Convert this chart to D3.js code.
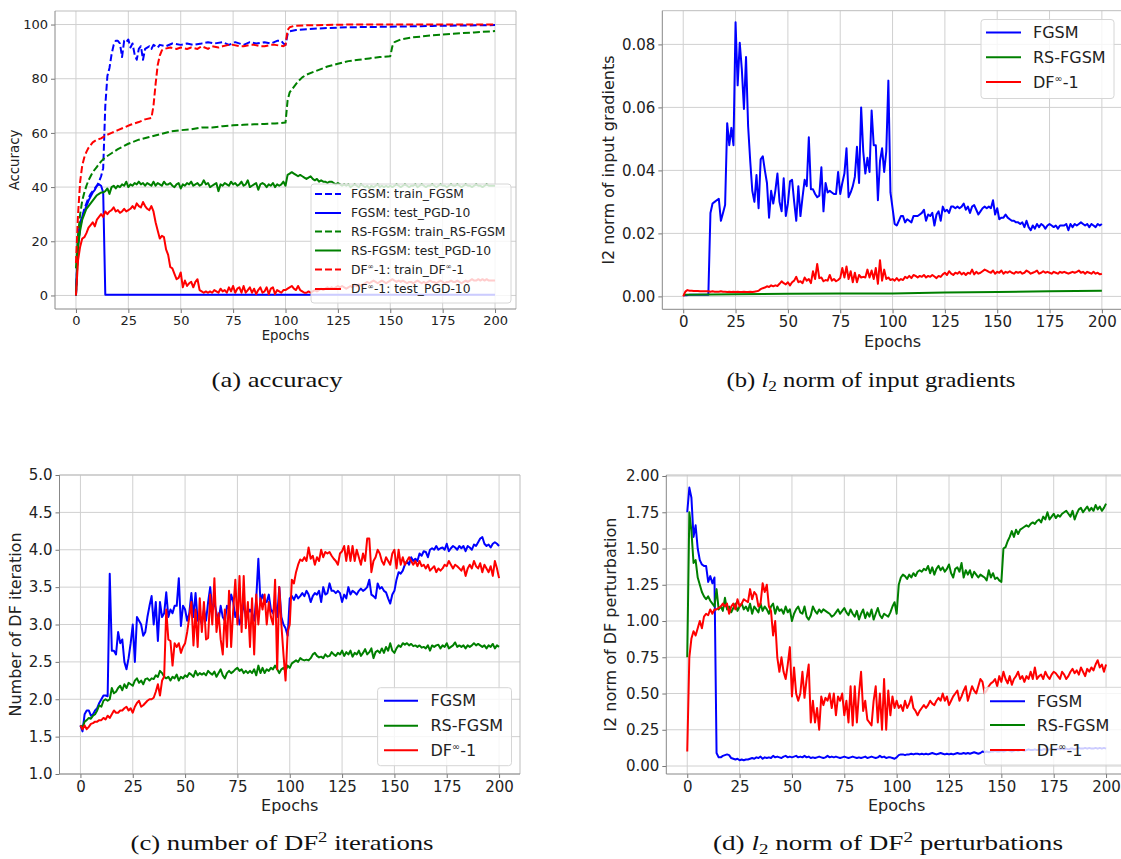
<!DOCTYPE html>
<html>
<head>
<meta charset="utf-8">
<script src="https://cdn.jsdelivr.net/npm/d3@7"></script>
<style>
  body { margin: 0; background: #fff; }
  svg text { font-family: "DejaVu Sans", sans-serif; }
</style>
</head>
<body>
<svg id="fig" width="1121" height="859"></svg>
<script>
// ---- shared x values / ticks ----
var epochs = d3.range(0, 201);
var xTicks = [0, 25, 50, 75, 100, 125, 150, 175, 200];

// ---- (a) accuracy ----
var fgsmTrainAccX = [0,1,2,3,4,5,6,7,8,9,10,11,12,13,14,15,16,17,18,19,20,21,22,23,24,25,26,27,28,29,30,31,32,33,34,35,36,37,38,39,40,
  43,46,50,53,56,60,63,66,70,73,76,80,83,86,90,93,96,98,99,100,101,102,105,110,120,130,150,170,200];
var fgsmTrainAcc = [0,18,25,29,32,34,36,37.5,38.5,39.5,40.5,42,44,47,70,81,84,89,92.5,94,94,93,88,94,93.5,94.5,91.5,93,89,87,91,92,87,91,91.5,92,91,92.5,92,91.5,92.5,
  92,93,92.5,93,92.5,93,93.5,93,93.5,92.5,93.5,92.5,93.5,93,93.5,93,94,94,93,92.5,96.5,97.5,98,98.3,98.7,99,99.2,99.5,99.8];
var fgsmTestAccX = [0,1,2,3,4,5,6,7,8,9,10,11,12,13,14,200];
var fgsmTestAcc = [0,22,27,29,31,33,35,36.5,38,39,40.5,41,40.5,38,0.3,0.3];
var rsTrainAccX = [0,1,2,3,4,5,6,7,8,10,12,14,17,20,25,30,35,40,45,50,55,60,65,70,75,80,85,90,95,100,101,102,104,106,108,110,115,120,125,130,135,140,145,150,151,152,155,160,165,170,180,190,200];
var rsTrainAcc = [10,22,30,35,38,40.5,42.5,44,45.5,47.5,49.5,51,52.5,54,56,57.5,58.5,59.5,60.5,61,61.3,62,62,62.5,62.8,63,63.2,63.3,63.5,63.8,72,75,77,79,80.5,81.5,83,84.5,85.5,86.5,87,87.5,88,88.3,92,93.5,94.5,95.2,95.6,96,96.6,97.1,97.6];
var rsTestAcc = [0,
  18, 24, 28, 30, 32, 33, 34, 35, 36, 37,
  37.5, 38, 38, 38.5, 39.5, 37.5, 40, 40.5, 39.5, 40.5,
  40, 41, 40.5, 42, 40, 41, 40.5, 41.5, 41, 42,
  41, 41.5, 40.5, 41.5, 41, 40.5, 42, 40.5, 41.5, 41,
  40.5, 42, 41, 41, 41.5, 40.5, 40, 41, 41.5, 39.5,
  41, 40.5, 41.5, 41, 42, 40.5, 41, 41.5, 40.5, 41,
  42.5, 41, 41.5, 40, 40.5, 41, 41.5, 38.5, 41, 40.5,
  41.5, 41, 40.5, 42, 41, 41.5, 40.5, 41, 42, 40.5,
  41, 42.5, 40, 40.5, 41, 41.5, 39, 41, 41.5, 41,
  40, 41, 40.5, 41.5, 40, 41, 40.5, 41, 42, 40.5,
  44.5, 45, 45.5, 45, 44.5, 44, 44.5, 44, 43.5, 43,
  43.5, 44, 43, 42.5, 43, 42, 42.5, 42, 42, 41.5,
  42, 42, 41.5, 41, 41.5, 41, 40.5, 41, 40.5, 41,
  40, 40.5, 41, 40.5, 40, 41, 40.5, 40, 40.5, 39.5,
  40.5, 40, 40.5, 41, 40, 40.5, 40, 40.5, 40, 40.5,
  40, 40.5, 41, 40.5, 40, 40.5, 41, 40.5, 40, 40.5,
  40.5, 41, 40, 40.5, 41, 40.5, 40, 40.5, 40.5, 41,
  40.5, 40, 40.5, 41, 40.5, 40.5, 40, 40.5, 41, 40.5,
  40.5, 41, 40.5, 40, 40.5, 41, 40.5, 40.5, 40, 40.5,
  41, 40.5, 40.5, 40, 40.5, 41, 40.5, 40.5, 40.5, 40.5];
var dfTrainAccX = [0,1,2,3,4,5,6,7,8,10,12,14,17,20,23,26,30,33,36,37,38,39,40,41,42,45,48,50,53,55,58,60,63,65,68,70,73,75,78,80,83,85,88,90,93,95,99,100,101,102,104,110,130,200];
var dfTrainAcc = [12,30,42,48,51,53,54.5,55.5,56.5,57.5,58,59,60,61,62,63,64,65,65.5,70,78,85,88.5,90.5,91,91.5,91,91.5,91,91.5,91,92,91,92,91.5,92,92.5,92.5,92,92,92.5,92.5,92,92,92.5,92.5,92,92.5,98,99,99.5,99.7,100,100];
var dfTestAcc = [0,
  13, 18, 21, 21.5, 23, 25, 26, 27, 25.5, 28,
  29, 30, 29, 31, 30, 31, 31.5, 32.5, 31, 31.5,
  30.5, 31, 32, 31, 31.5, 32, 33, 32, 34, 33,
  32.5, 34.5, 33, 32, 31.5, 33, 31, 27, 24, 21,
  22, 21.5, 17, 15, 10.5, 10, 8, 6, 6.5, 8.5,
  3, 5.5, 3.5, 4.5, 5, 3, 5, 6, 2, 1.5,
  1, 1.5, 1, 1.5, 1, 2, 1.5, 1, 2.5, 1.5,
  2, 1, 3, 1.5, 3.5, 1, 2.5, 3, 1, 3.5,
  1, 2, 3, 1, 2.5, 0.5, 2, 3, 1, 1.5,
  3, 0.5, 2.5, 3, 0.5, 2, 1.5, 1, 2, 2,
  2.5, 3, 3.5, 2.5, 2, 3.5, 2, 1.5, 1, 1,
  1.5, 1, 1.5, 2, 1.5, 2, 2.5, 2, 2.5, 3,
  2.5, 3, 2.5, 3, 3.5, 3, 3.5, 3, 2.5, 3,
  3.5, 3, 4, 3.5, 4, 3.5, 4, 4.5, 5, 4.5,
  5, 5.5, 5, 4.5, 5, 5.5, 5, 4.5, 5, 5.5,
  6, 5.5, 5, 5.5, 5, 5.5, 5, 4.5, 5, 5,
  4.5, 5, 5.5, 5, 4.5, 5, 4.5, 5, 5.5, 5,
  5, 4.5, 5, 5.5, 5, 4.5, 5, 5, 5.5, 5,
  5, 5.5, 5, 4.5, 5, 5.5, 5, 5.5, 6, 5.5,
  5.5, 6, 5.5, 6, 5.5, 6, 5.5, 5.5, 5.5, 5.5];

// ---- (b) l2 norm of input gradients ----
var fgsmGrad = [0.0003,
  0.0004, 0.0004, 0.0005, 0.0005, 0.0005, 0.0005, 0.0005, 0.0005, 0.0005, 0.0005,
  0.0005, 0.0005, 0.0265, 0.0295, 0.030, 0.0305, 0.031, 0.024, 0.0265, 0.029,
  0.055, 0.048, 0.0535, 0.048, 0.087, 0.067, 0.0805, 0.072, 0.0595, 0.076,
  0.054, 0.043, 0.0335, 0.030, 0.0385, 0.028, 0.0435, 0.0445, 0.040, 0.036,
  0.025, 0.0335, 0.0295, 0.0335, 0.039, 0.030, 0.027, 0.0375, 0.0255, 0.0295,
  0.0365, 0.037, 0.030, 0.024, 0.035, 0.0255, 0.0315, 0.037, 0.035, 0.0505,
  0.034, 0.034, 0.0325, 0.0315, 0.032, 0.041, 0.027, 0.036, 0.033, 0.0335,
  0.033, 0.0325, 0.0325, 0.0395, 0.0325, 0.036, 0.039, 0.047, 0.0315, 0.033,
  0.035, 0.038, 0.0475, 0.036, 0.060, 0.046, 0.039, 0.044, 0.0395, 0.059,
  0.048, 0.048, 0.0305, 0.043, 0.047, 0.0395, 0.046, 0.0685, 0.033, 0.028,
  0.023, 0.0225, 0.024, 0.0255, 0.0255, 0.0235, 0.0245, 0.024, 0.0235, 0.0255,
  0.0255, 0.0255, 0.026, 0.0265, 0.0275, 0.024, 0.026, 0.0255, 0.0265, 0.0225,
  0.026, 0.027, 0.024, 0.0285, 0.027, 0.0275, 0.0265, 0.0285, 0.0285, 0.028,
  0.0285, 0.028, 0.0285, 0.0295, 0.0275, 0.0285, 0.0265, 0.0285, 0.029, 0.0275,
  0.026, 0.027, 0.028, 0.0285, 0.028, 0.0285, 0.028, 0.0305, 0.026, 0.028,
  0.0245, 0.025, 0.025, 0.026, 0.025, 0.0245, 0.024, 0.024, 0.0235, 0.0235,
  0.023, 0.0235, 0.022, 0.024, 0.022, 0.021, 0.0225, 0.0215, 0.023, 0.022,
  0.023, 0.0225, 0.0215, 0.0225, 0.023, 0.0225, 0.022, 0.0225, 0.0215, 0.0225,
  0.0225, 0.0225, 0.023, 0.021, 0.023, 0.022, 0.023, 0.0225, 0.023, 0.0235,
  0.023, 0.0225, 0.023, 0.022, 0.023, 0.0225, 0.022, 0.023, 0.0225, 0.023];
var rsGradX = [0, 25, 50, 75, 100, 125, 150, 175, 200];
var rsGrad = [0.0005, 0.0007, 0.0008, 0.0009, 0.0009, 0.0012, 0.0014, 0.0016, 0.0018];
var dfGrad = [0,
  0.0015, 0.002, 0.0018, 0.0018, 0.0017, 0.0017, 0.0017, 0.0016, 0.0016, 0.0016,
  0.0016, 0.0016, 0.0015, 0.0016, 0.0015, 0.0015, 0.0015, 0.0016, 0.0015, 0.0015,
  0.0014, 0.0015, 0.0014, 0.0015, 0.0014, 0.0015, 0.0014, 0.0014, 0.0015, 0.0014,
  0.0014, 0.0015, 0.0014, 0.0015, 0.0016, 0.0018, 0.0023, 0.0026, 0.0028, 0.0032,
  0.003, 0.0035, 0.0032, 0.0035, 0.0033, 0.004, 0.0048, 0.0042, 0.0038, 0.0045,
  0.0035, 0.0045, 0.005, 0.0062, 0.0045, 0.0048, 0.0042, 0.006, 0.005, 0.0055,
  0.0042, 0.008, 0.0055, 0.0103, 0.0058, 0.006, 0.0048, 0.0052, 0.005, 0.0068,
  0.005, 0.0055, 0.0048, 0.0052, 0.0058, 0.009, 0.006, 0.0095, 0.0055, 0.008,
  0.0045, 0.0075, 0.0045, 0.0068, 0.006, 0.0062, 0.006, 0.0085, 0.006, 0.0082,
  0.0055, 0.009, 0.004, 0.0115, 0.005, 0.0085, 0.0055, 0.006, 0.0052, 0.0055,
  0.005, 0.0058, 0.005, 0.0055, 0.0052, 0.0062, 0.0058, 0.0065, 0.0058, 0.0068,
  0.0065, 0.006, 0.0065, 0.0062, 0.0068, 0.006, 0.0065, 0.0062, 0.0068, 0.0063,
  0.0058, 0.0065, 0.0062, 0.007, 0.0075, 0.0068, 0.008, 0.0072, 0.0068, 0.0075,
  0.0072, 0.0078, 0.007, 0.0075, 0.0068, 0.0075, 0.0072, 0.0085, 0.007, 0.0078,
  0.0072, 0.0075, 0.008, 0.0085, 0.0082, 0.0078, 0.0075, 0.0082, 0.0072, 0.0078,
  0.0075, 0.0082, 0.0072, 0.0078, 0.0075, 0.008, 0.0075, 0.0072, 0.0078, 0.0075,
  0.0078, 0.0072, 0.0075, 0.0082, 0.0078, 0.0072, 0.0075, 0.0078, 0.0082, 0.0072,
  0.0075, 0.008, 0.0075, 0.0078, 0.0075, 0.0072, 0.0078, 0.0075, 0.0072, 0.0078,
  0.0075, 0.0078, 0.0075, 0.0072, 0.0075, 0.0078, 0.0075, 0.0078, 0.0082, 0.0075,
  0.0078, 0.0072, 0.0078, 0.0075, 0.0072, 0.0078, 0.0072, 0.0075, 0.007, 0.0072];

// ---- (c) number of DF iterations ----
var fgsmIter = [1.65,
  1.57, 1.8, 1.85, 1.85, 1.78, 1.8, 1.85, 1.88, 1.95, 2.0,
  2.05, 2.05, 2.04, 3.68, 2.65, 2.65, 2.6, 2.9, 2.75, 2.8,
  2.5, 2.4, 2.55, 2.75, 3.0, 2.5, 3.1, 3.05, 3.0, 2.85,
  2.9, 3.1, 3.25, 3.38, 3.0, 3.3, 2.78, 3.3, 3.1, 3.15,
  3.43, 3.1, 3.2, 3.15, 3.25, 3.25, 3.62, 2.98, 3.25, 3.2,
  3.05, 3.15, 3.42, 3.1, 3.42, 3.05, 3.1, 3.0, 3.2, 3.05,
  3.3, 3.5, 3.2, 3.3, 3.15, 3.05, 3.25, 3.1, 3.05, 3.25,
  3.2, 3.4, 3.3, 3.1, 3.2, 3.0, 3.1, 3.3, 3.1, 3.15,
  3.2, 3.15, 3.05, 3.35, 3.88, 3.3, 3.4, 3.3, 3.3, 3.4,
  3.2, 3.15, 3.3, 3.1, 3.5, 3.1, 3.0, 2.95, 2.85, 3.35,
  3.38, 3.33, 3.4, 3.35, 3.38, 3.42, 3.38, 3.45, 3.4, 3.3,
  3.38, 3.42, 3.4, 3.45, 3.3, 3.5, 3.4, 3.42, 3.55, 3.45,
  3.45, 3.42, 3.45, 3.42, 3.3, 3.4, 3.35, 3.5, 3.4, 3.45,
  3.43, 3.4, 3.45, 3.48, 3.45, 3.47, 3.5, 3.6, 3.4, 3.38,
  3.35, 3.55, 3.48, 3.5, 3.45, 3.43, 3.35, 3.28, 3.4, 3.45,
  3.6, 3.7, 3.68, 3.72, 3.8, 3.85, 3.8, 3.9, 3.85, 3.88,
  3.85, 3.95, 3.92, 3.98, 3.97, 3.9, 4.0, 4.02, 4.0, 4.05,
  4.0, 4.02, 4.03, 4.0, 4.08, 3.98, 4.02, 4.05, 4.03, 4.0,
  4.05, 4.02, 4.05, 3.98, 4.05, 4.03, 4.0, 4.07, 4.05, 4.1,
  4.15, 4.17, 4.08, 4.05, 4.07, 4.03, 4.08, 4.1, 4.08, 4.05];
var rsIter = [1.65,
  1.62, 1.7, 1.72, 1.75, 1.74, 1.78, 1.8, 1.85, 1.92, 1.9,
  1.98, 2.0, 1.98, 2.0, 2.15, 2.08, 2.1, 2.15, 2.18, 2.12,
  2.2, 2.15, 2.22, 2.2, 2.18, 2.25, 2.28, 2.22, 2.25, 2.2,
  2.27, 2.28, 2.25, 2.28, 2.27, 2.32, 2.3, 2.38, 2.35, 2.3,
  2.28, 2.3, 2.25, 2.3, 2.28, 2.33, 2.25, 2.3, 2.28, 2.32,
  2.3, 2.35, 2.33, 2.3, 2.38, 2.32, 2.35, 2.33, 2.35, 2.32,
  2.38, 2.35, 2.33, 2.37, 2.3, 2.35, 2.4, 2.32, 2.28, 2.35,
  2.38, 2.35, 2.37, 2.4, 2.42, 2.38, 2.4, 2.35, 2.38, 2.35,
  2.38, 2.35, 2.4, 2.32, 2.45, 2.35, 2.42, 2.35, 2.4, 2.38,
  2.42, 2.4, 2.45, 2.4, 2.35, 2.4, 2.42, 2.38, 2.45, 2.42,
  2.48, 2.5, 2.52, 2.5, 2.55, 2.53, 2.52, 2.53, 2.52, 2.55,
  2.6, 2.62, 2.58, 2.56, 2.57, 2.55, 2.6, 2.57, 2.58, 2.63,
  2.6, 2.58, 2.62, 2.6, 2.65, 2.58, 2.63, 2.6, 2.65, 2.57,
  2.62, 2.6, 2.65, 2.58, 2.62, 2.67, 2.6, 2.63, 2.68, 2.55,
  2.63, 2.65, 2.62, 2.68, 2.62, 2.7, 2.65, 2.75, 2.65, 2.62,
  2.68, 2.72, 2.7, 2.75, 2.73, 2.75, 2.72, 2.74, 2.71, 2.72,
  2.7, 2.72, 2.69, 2.7, 2.68, 2.72, 2.65, 2.72, 2.7, 2.72,
  2.73, 2.68, 2.72, 2.7, 2.75, 2.68, 2.7, 2.72, 2.76, 2.7,
  2.72, 2.7, 2.72, 2.68, 2.72, 2.7, 2.72, 2.75, 2.72, 2.74,
  2.72, 2.7, 2.72, 2.68, 2.72, 2.7, 2.74, 2.68, 2.72, 2.7];
var dfIter = [1.65,
  1.6, 1.65, 1.6, 1.63, 1.67, 1.68, 1.7, 1.7, 1.72, 1.72,
  1.75, 1.73, 1.78, 1.75, 1.8, 1.85, 1.82, 1.82, 1.85, 1.85,
  1.88, 1.9, 1.85, 1.88, 1.82, 1.9, 1.95, 1.98, 1.9, 1.92,
  1.95, 1.98, 2.0, 2.0, 2.02, 2.1, 2.2, 2.05, 2.25, 2.3,
  3.2, 2.8, 2.78, 2.45, 2.75, 2.7, 2.75, 2.62, 2.7, 2.75,
  2.9, 3.1, 3.3, 2.72, 3.2, 2.7, 3.35, 2.9, 3.3, 2.8,
  2.82, 3.4, 3.0, 3.62, 2.9, 3.15, 2.8, 2.6, 3.2, 2.7,
  3.45, 2.7, 3.2, 3.6, 3.0, 3.65, 2.9, 3.65, 2.95, 3.3,
  2.7, 3.35, 2.6, 3.4, 3.0, 3.35, 3.2, 3.4, 3.0, 3.3,
  3.1, 3.0, 3.6, 2.4, 3.5, 3.0, 2.6, 2.25, 2.9, 3.0,
  3.6, 3.55, 3.7, 3.8, 3.87, 3.85, 3.9, 3.85, 4.03, 3.88,
  3.92, 3.8, 3.9, 3.85, 4.0, 3.9, 3.97, 3.95, 3.97, 3.92,
  3.88, 3.85, 3.8, 3.95, 3.98, 4.05, 3.85, 4.05, 3.85, 4.05,
  3.85, 4.0, 3.9, 3.8, 3.95, 3.85, 4.15, 4.15, 3.7, 3.85,
  3.9, 4.0, 3.95, 3.85, 3.8, 3.9, 3.85, 3.8, 3.95, 4.0,
  3.75, 4.0, 3.8, 3.9, 3.8, 3.85, 3.9, 3.85, 3.8, 3.85,
  3.78, 3.85, 3.78, 3.8, 3.75, 3.8, 3.72, 3.75, 3.78, 3.7,
  3.75, 3.72, 3.75, 3.8, 3.78, 3.85, 3.8, 3.75, 3.8, 3.78,
  3.75, 3.72, 3.78, 3.65, 3.75, 3.8, 3.75, 3.85, 3.78, 3.75,
  3.82, 3.7, 3.8, 3.75, 3.7, 3.78, 3.65, 3.85, 3.75, 3.62];

// ---- (d) l2 norm of DF perturbations ----
var fgsmPert = [1.75,
  1.92, 1.85, 1.58, 1.66, 1.5, 1.42, 1.39, 1.38, 1.38, 1.27,
  1.31, 1.26, 1.3, 0.09, 0.06, 0.06, 0.07, 0.075, 0.08, 0.075,
  0.055, 0.05, 0.045, 0.05, 0.04, 0.045, 0.04, 0.045, 0.045, 0.05,
  0.055, 0.05, 0.06, 0.055, 0.065, 0.05, 0.06, 0.055, 0.06, 0.055,
  0.07, 0.06, 0.065, 0.06, 0.055, 0.065, 0.07, 0.06, 0.065, 0.06,
  0.065, 0.07, 0.06, 0.065, 0.06, 0.07, 0.06, 0.065, 0.055, 0.06,
  0.055, 0.06, 0.065, 0.06, 0.055, 0.06, 0.07, 0.06, 0.065, 0.06,
  0.065, 0.06, 0.055, 0.06, 0.065, 0.06, 0.055, 0.06, 0.065, 0.06,
  0.055, 0.06, 0.055, 0.06, 0.065, 0.055, 0.06, 0.065, 0.06, 0.055,
  0.06, 0.07, 0.06, 0.065, 0.055, 0.06, 0.06, 0.055, 0.05, 0.06,
  0.075, 0.08, 0.08, 0.075, 0.08, 0.08, 0.085, 0.08, 0.085, 0.085,
  0.08, 0.085, 0.08, 0.085, 0.08, 0.085, 0.09, 0.085, 0.08, 0.085,
  0.09, 0.085, 0.08, 0.085, 0.08, 0.085, 0.08, 0.085, 0.09, 0.085,
  0.085, 0.09, 0.085, 0.09, 0.085, 0.09, 0.095, 0.09, 0.085, 0.09,
  0.1, 0.095, 0.1, 0.095, 0.1, 0.1, 0.105, 0.1, 0.1, 0.105,
  0.1, 0.105, 0.11, 0.105, 0.1, 0.105, 0.11, 0.105, 0.11, 0.11,
  0.105, 0.11, 0.115, 0.11, 0.11, 0.115, 0.11, 0.115, 0.11, 0.115,
  0.115, 0.11, 0.115, 0.12, 0.115, 0.115, 0.12, 0.115, 0.12, 0.115,
  0.12, 0.115, 0.12, 0.12, 0.115, 0.12, 0.125, 0.12, 0.12, 0.125,
  0.12, 0.125, 0.12, 0.12, 0.125, 0.12, 0.125, 0.12, 0.125, 0.12];
var rsPert = [0.75,
  1.75, 1.62, 1.4, 1.42, 1.3, 1.25, 1.2, 1.17, 1.15, 1.17,
  1.14, 1.12, 1.1, 1.22, 1.08, 1.1, 1.07, 1.16, 1.08, 1.1,
  1.06, 1.09, 1.12, 1.07, 1.1, 1.12, 1.08, 1.1, 1.07, 1.12,
  1.05, 1.1, 1.08, 1.06, 1.12, 1.07, 1.1, 1.08, 1.05, 1.1,
  1.12, 1.05, 1.1, 1.07, 1.08, 1.05, 1.1, 1.06, 1.08, 1.0,
  1.05, 1.08, 1.1, 1.06, 1.05, 1.1, 1.03, 1.01, 1.04, 1.1,
  1.07, 1.05, 1.08, 1.06, 1.08, 1.07, 1.06, 1.05, 1.03, 1.04,
  1.06, 1.08, 1.05, 1.07, 1.09, 1.06, 1.04, 1.08, 1.05, 1.03,
  1.07, 1.01, 1.05, 1.08, 1.02, 1.06, 1.03, 1.08, 1.01, 1.05,
  1.09, 1.04, 1.02, 1.05, 1.04, 1.03, 1.06, 1.1, 1.13, 1.05,
  1.25, 1.3, 1.32, 1.31, 1.29, 1.32, 1.3, 1.33, 1.31, 1.34,
  1.35, 1.34, 1.36, 1.35, 1.38, 1.33, 1.37, 1.32, 1.36, 1.38,
  1.35, 1.37, 1.34, 1.36, 1.39, 1.33, 1.3, 1.36, 1.37, 1.34,
  1.4, 1.3, 1.35, 1.32, 1.35, 1.3, 1.34, 1.32, 1.3, 1.32,
  1.31, 1.3, 1.28, 1.35, 1.3, 1.33, 1.29, 1.3, 1.28, 1.27,
  1.5, 1.51, 1.55, 1.58, 1.62, 1.58, 1.63, 1.6, 1.63, 1.64,
  1.65, 1.66, 1.65, 1.67, 1.68, 1.67, 1.69, 1.7, 1.68, 1.72,
  1.7, 1.75, 1.7, 1.72, 1.74, 1.71, 1.73, 1.72, 1.74, 1.75,
  1.76, 1.74, 1.72, 1.76, 1.7, 1.74, 1.77, 1.78, 1.75, 1.77,
  1.79, 1.76, 1.78, 1.76, 1.8, 1.77, 1.79, 1.76, 1.78, 1.81];
var dfPert = [0.1,
  0.75, 0.88, 0.93, 0.9, 0.95, 1.0, 0.95, 1.03, 1.05, 1.04,
  1.08, 1.05, 1.08, 1.08, 1.09, 1.1, 1.12, 1.1, 1.12, 1.05,
  1.1, 1.12, 1.08, 1.15, 1.1, 1.12, 1.15, 1.14, 1.13, 1.22,
  1.15, 1.2, 1.18, 1.1, 1.12, 1.26, 1.2, 1.25, 1.1, 1.07,
  0.9, 1.0, 0.75, 0.65, 0.75, 0.65, 0.6, 0.7, 0.82, 0.48,
  0.68, 0.5, 0.45, 0.5, 0.65, 0.47, 0.6, 0.7, 0.3, 0.45,
  0.3, 0.4, 0.25, 0.48, 0.42, 0.47, 0.45, 0.5, 0.4, 0.5,
  0.35, 0.48, 0.45, 0.5, 0.35, 0.45, 0.3, 0.55, 0.28, 0.55,
  0.3, 0.5, 0.65, 0.38, 0.45, 0.32, 0.3, 0.28, 0.45, 0.55,
  0.3, 0.5, 0.25, 0.6, 0.25, 0.52, 0.35, 0.48, 0.4, 0.45,
  0.4, 0.42, 0.38, 0.45, 0.4, 0.43, 0.48, 0.4, 0.38, 0.35,
  0.38, 0.4, 0.42, 0.4, 0.42, 0.45, 0.43, 0.42, 0.45, 0.47,
  0.45, 0.5, 0.45, 0.48, 0.42, 0.45, 0.48, 0.5, 0.52, 0.45,
  0.48, 0.52, 0.55, 0.45, 0.5, 0.55, 0.52, 0.5, 0.55, 0.6,
  0.58, 0.5, 0.52, 0.55, 0.57, 0.58, 0.6, 0.55, 0.62, 0.58,
  0.65, 0.6, 0.57, 0.62, 0.56, 0.6, 0.62, 0.65, 0.6, 0.62,
  0.58, 0.62, 0.6, 0.65, 0.6, 0.68, 0.6, 0.62, 0.63, 0.6,
  0.65, 0.62, 0.6, 0.63, 0.65, 0.64, 0.62, 0.6, 0.65, 0.63,
  0.6, 0.62, 0.65, 0.67, 0.64, 0.66, 0.63, 0.68, 0.65, 0.62,
  0.67, 0.65, 0.68, 0.66, 0.7, 0.73, 0.68, 0.7, 0.65, 0.7];

// ---- labels ----
var accLegend = ["FGSM: train_FGSM", "FGSM: test_PGD-10", "RS-FGSM: train_RS-FGSM",
  "RS-FGSM: test_PGD-10", "DF\u221e-1: train_DF\u221e-1", "DF\u221e-1: test_PGD-10"];
var methodLegend = ["FGSM", "RS-FGSM", "DF\u221e-1"];
var colors = ["#0000ff", "#008000", "#ff0000"];

var fig = d3.select("#fig");
fig.append("rect").attr("width", 1121).attr("height", 859).attr("fill", "#fff");

// text with a small superscript infinity sign
function richText(sel, str, fs) {
  var parts = str.split("\u221e");
  var up = fs * 0.38;
  parts.forEach(function(part, i) {
    if (i > 0) {
      sel.append("tspan").attr("font-size", fs * 0.62).attr("dy", -up).text("\u221e");
      sel.append("tspan").attr("dy", up).text(part);
    } else {
      sel.append("tspan").text(part);
    }
  });
}

function drawPanel(p) {
  var x = d3.scaleLinear().domain([-10, 210]).range([p.left, p.right]);
  var y = d3.scaleLinear().domain(p.yDomain).range([p.bottom, p.top]);
  var g = fig.append("g");

  // grid
  g.append("g").selectAll("line").data(xTicks).enter().append("line")
    .attr("x1", function(d) { return x(d); }).attr("x2", function(d) { return x(d); })
    .attr("y1", p.top).attr("y2", p.bottom)
    .attr("stroke", "#d0d0d0").attr("stroke-width", 1);
  g.append("g").selectAll("line").data(p.yTicks).enter().append("line")
    .attr("y1", function(d) { return y(d); }).attr("y2", function(d) { return y(d); })
    .attr("x1", p.left).attr("x2", p.right)
    .attr("stroke", "#d0d0d0").attr("stroke-width", 1);

  // axes
  var xa = g.append("g").attr("transform", "translate(0," + p.bottom + ")")
    .call(d3.axisBottom(x).tickValues(xTicks).tickSize(4).tickPadding(3).tickSizeOuter(0));
  var ya = g.append("g").attr("transform", "translate(" + p.left + ",0)")
    .call(d3.axisLeft(y).tickValues(p.yTicks).tickFormat(d3.format(p.fmt)).tickSize(4).tickPadding(3).tickSizeOuter(0));
  [xa, ya].forEach(function(a) {
    a.select(".domain").remove();
    a.attr("font-size", p.tickFs).attr("font-family", "DejaVu Sans");
    a.selectAll("line").attr("stroke", "#777");
    a.selectAll("text").attr("fill", "#222");
  });

  // frame
  g.append("line").attr("x1", p.left).attr("x2", p.right).attr("y1", p.top).attr("y2", p.top).attr("stroke", "#bdbdbd");
  g.append("line").attr("x1", p.right).attr("x2", p.right).attr("y1", p.top).attr("y2", p.bottom).attr("stroke", "#bdbdbd");
  g.append("line").attr("x1", p.left).attr("x2", p.right).attr("y1", p.bottom).attr("y2", p.bottom).attr("stroke", "#888");
  g.append("line").attr("x1", p.left).attr("x2", p.left).attr("y1", p.top).attr("y2", p.bottom).attr("stroke", "#888");

  // series
  var cid = "clip-" + p.id;
  fig.append("clipPath").attr("id", cid).append("rect")
    .attr("x", p.left).attr("y", p.top).attr("width", p.right - p.left).attr("height", p.bottom - p.top);
  var lines = g.append("g").attr("clip-path", "url(#" + cid + ")");
  p.series.forEach(function(s) {
    var xs = s.x || epochs;
    var line = d3.line().x(function(d, i) { return x(xs[i]); }).y(function(d) { return y(d); });
    lines.append("path").datum(s.y).attr("d", line)
      .attr("fill", "none").attr("stroke", s.color).attr("stroke-width", p.lw)
      .attr("stroke-linejoin", "round")
      .attr("stroke-dasharray", s.dash ? "7,3" : null);
  });

  // axis labels
  g.append("text").attr("x", (p.left + p.right) / 2).attr("y", p.xLabelY)
    .attr("text-anchor", "middle").attr("font-size", p.labelFs).attr("fill", "#222").text("Epochs");
  g.append("text").attr("transform", "translate(" + p.yLabelX + "," + ((p.top + p.bottom) / 2) + ") rotate(-90)")
    .attr("text-anchor", "middle").attr("font-size", p.labelFs).attr("fill", "#222").text(p.yLabel);

  // legend
  var L = p.legend;
  var lg = g.append("g");
  lg.append("rect").attr("x", L.box[0]).attr("y", L.box[1])
    .attr("width", L.box[2] - L.box[0]).attr("height", L.box[3] - L.box[1])
    .attr("rx", 3).attr("fill", "#fff").attr("fill-opacity", 0.8)
    .attr("stroke", "#d6d6d6").attr("stroke-width", 1);
  L.items.forEach(function(it, i) {
    var yy = L.rows[i];
    lg.append("line").attr("x1", L.hx[0]).attr("x2", L.hx[1]).attr("y1", yy).attr("y2", yy)
      .attr("stroke", it.color).attr("stroke-width", p.lw)
      .attr("stroke-dasharray", it.dash ? "7,3" : null);
    var t = lg.append("text").attr("x", L.tx).attr("y", yy + L.fs * 0.36)
      .attr("font-size", L.fs).attr("fill", "#222");
    richText(t, it.label, L.fs);
  });
}

// panel (a)
drawPanel({
  id: "a", left: 55, right: 516, top: 11, bottom: 309,
  yDomain: [-5, 105], yTicks: [0, 20, 40, 60, 80, 100], fmt: "d",
  tickFs: 13, labelFs: 13.3, lw: 2, xLabelY: 340, yLabelX: 19, yLabel: "Accuracy",
  series: [
    { x: fgsmTrainAccX, y: fgsmTrainAcc, color: colors[0], dash: true },
    { x: fgsmTestAccX, y: fgsmTestAcc, color: colors[0] },
    { x: rsTrainAccX, y: rsTrainAcc, color: colors[1], dash: true },
    { y: rsTestAcc, color: colors[1] },
    { x: dfTrainAccX, y: dfTrainAcc, color: colors[2], dash: true },
    { y: dfTestAcc, color: colors[2] }
  ],
  legend: {
    box: [311, 184, 511, 303], hx: [315, 341], tx: 351, fs: 12.3,
    rows: [194, 213, 231.5, 250.5, 269.5, 289],
    items: accLegend.map(function(l, i) { return { label: l, color: colors[Math.floor(i / 2)], dash: i % 2 === 0 }; })
  }
});

// panel (b)
drawPanel({
  id: "b", left: 662.3, right: 1122.8, top: 10.7, bottom: 309.3,
  yDomain: [-0.0041, 0.0907], yTicks: [0, 0.02, 0.04, 0.06, 0.08], fmt: ".2f",
  tickFs: 15, labelFs: 16, lw: 2, xLabelY: 347, yLabelX: 614, yLabel: "l2 norm of input gradients",
  series: [
    { y: fgsmGrad, color: colors[0] },
    { x: rsGradX, y: rsGrad, color: colors[1] },
    { y: dfGrad, color: colors[2] }
  ],
  legend: {
    box: [981, 19.5, 1114, 98.5], hx: [986, 1021], tx: 1033, fs: 16,
    rows: [32.5, 57.3, 82],
    items: methodLegend.map(function(l, i) { return { label: l, color: colors[i] }; })
  }
});

// panel (c)
drawPanel({
  id: "c", left: 59.5, right: 520, top: 475, bottom: 774,
  yDomain: [1, 5], yTicks: [1, 1.5, 2, 2.5, 3, 3.5, 4, 4.5, 5], fmt: ".1f",
  tickFs: 15, labelFs: 16, lw: 2, xLabelY: 811, yLabelX: 21, yLabel: "Number of DF iteration",
  series: [
    { y: fgsmIter, color: colors[0] },
    { y: rsIter, color: colors[1] },
    { y: dfIter, color: colors[2] }
  ],
  legend: {
    box: [377.6, 687.7, 511.5, 765.7], hx: [384, 418], tx: 430.5, fs: 16,
    rows: [700.7, 725.7, 750.3],
    items: methodLegend.map(function(l, i) { return { label: l, color: colors[i] }; })
  }
});

// panel (d)
drawPanel({
  id: "d", left: 666.3, right: 1127, top: 475, bottom: 774,
  yDomain: [-0.055, 2.007], yTicks: [0, 0.25, 0.5, 0.75, 1, 1.25, 1.5, 1.75, 2], fmt: ".2f",
  tickFs: 15, labelFs: 16, lw: 2, xLabelY: 811, yLabelX: 616, yLabel: "l2 norm of DF perturbation",
  series: [
    { y: fgsmPert, color: colors[0] },
    { y: rsPert, color: colors[1] },
    { y: dfPert, color: colors[2] }
  ],
  legend: {
    box: [984.3, 687.3, 1126, 765], hx: [990, 1025], tx: 1036.7, fs: 16,
    rows: [701.3, 725, 750],
    items: methodLegend.map(function(l, i) { return { label: l, color: colors[i] }; })
  }
});

// ---- captions ----
var captions = [
  { cx: 277, y: 387, w: 131, parts: [["(a) accuracy", ""]] },
  { cx: 871, y: 387, w: 289, parts: [["(b) ", ""], ["l", "i"], ["2", "sub"], [" norm of input gradients", ""]] },
  { cx: 282, y: 850, w: 303, parts: [["(c) number of DF", ""], ["2", "sup"], [" iterations", ""]] },
  { cx: 888, y: 850, w: 350, parts: [["(d) ", ""], ["l", "i"], ["2", "sub"], [" norm of DF", ""], ["2", "sup"], [" perturbations", ""]] }
];
captions.forEach(function(c) {
  var fs = 22;
  var t = fig.append("text").attr("x", c.cx).attr("y", c.y).attr("text-anchor", "middle")
    .attr("font-size", fs).attr("fill", "#111")
    .style("font-family", "'Liberation Serif', serif")
    .attr("textLength", c.w).attr("lengthAdjust", "spacingAndGlyphs");
  var shift = 0;
  c.parts.forEach(function(pt) {
    var s = t.append("tspan").text(pt[0]);
    var target = 0;
    if (pt[1] === "i") s.style("font-style", "italic");
    if (pt[1] === "sub") { s.attr("font-size", fs * 0.7); target = fs * 0.18; }
    if (pt[1] === "sup") { s.attr("font-size", fs * 0.7); target = -fs * 0.38; }
    if (target - shift !== 0) s.attr("dy", target - shift);
    shift = target;
  });
});
</script>
</body>
</html>
